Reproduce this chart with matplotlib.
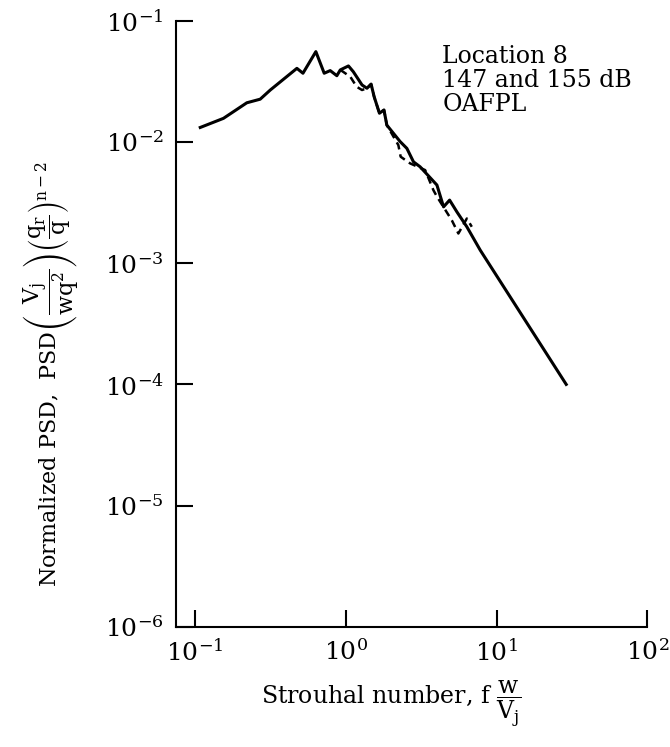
import matplotlib
matplotlib.use("Agg")
import matplotlib.pyplot as plt

plt.rcParams['font.family'] = ['DejaVu Serif']
plt.rcParams['mathtext.fontset'] = 'dejavuserif'

# 147 dB spectrum (solid)
st_solid = [0.108, 0.154, 0.220, 0.270, 0.315, 0.473, 0.519, 0.632, 0.718, 0.787,
            0.871, 0.918, 1.04, 1.12, 1.28, 1.38, 1.47, 1.54, 1.67, 1.79,
            1.87, 2.29, 2.54, 2.81, 3.11, 4.02, 4.45, 4.88, 5.46, 6.35,
            7.80, 29.0]
psd_solid = [0.0132, 0.0157, 0.0211, 0.0226, 0.0269, 0.0406, 0.0370, 0.0558, 0.0370, 0.0389,
             0.0353, 0.0394, 0.0425, 0.0381, 0.0296, 0.0278, 0.0301, 0.0237, 0.0173, 0.0184,
             0.0138, 0.0101, 0.00887, 0.00687, 0.00625, 0.00442, 0.00292, 0.00332, 0.00265, 0.00200,
             0.00128, 0.000100]

# 155 dB spectrum (dashed)
st_dash = [0.92, 1.07, 1.18, 1.28, 1.38, 1.47, 1.54, 1.67, 1.79, 1.87,
           2.23, 2.31, 2.67, 3.36, 3.81, 4.02, 5.05, 5.58, 6.35, 6.85]
psd_dash = [0.0394, 0.0346, 0.0286, 0.0269, 0.0278, 0.0301, 0.0237, 0.0173, 0.0184, 0.0138,
            0.00944, 0.00757, 0.00667, 0.00587, 0.00401, 0.00355, 0.00226, 0.00176, 0.00234, 0.00200]

x_ticks = [0.1, 1, 10, 100]
y_ticks = [1e-6, 1e-5, 1e-4, 1e-3, 1e-2, 1e-1]

fig = plt.figure(figsize=(6.7, 7.47), dpi=100)
ax = fig.add_axes([0.263, 0.161, 0.703, 0.811])

ax.plot(st_solid, psd_solid, color='black', lw=2.2, solid_joinstyle='round')
ax.plot(st_dash, psd_dash, color='black', lw=1.8, linestyle=(0, (3, 2)))

ax.set_xscale('log')
ax.set_yscale('log')
ax.set_xlim(0.0748, 100)
ax.set_ylim(1e-6, 1e-1)
ax.set_xticks(x_ticks)
ax.set_yticks(y_ticks)
ax.set_xticklabels([r'$10^{-1}$', r'$10^{0}$', r'$10^{1}$', r'$10^{2}$'])
ax.set_yticklabels([r'$10^{-6}$', r'$10^{-5}$', r'$10^{-4}$', r'$10^{-3}$', r'$10^{-2}$', r'$10^{-1}$'])
ax.minorticks_off()
ax.tick_params(direction='in', length=12, width=1.5, labelsize=18, pad=9)

ax.spines['top'].set_visible(False)
ax.spines['right'].set_visible(False)
ax.spines['left'].set_linewidth(1.5)
ax.spines['bottom'].set_linewidth(1.5)

ax.text(0.565, 0.96, "Location 8\n147 and 155 dB\nOAFPL", transform=ax.transAxes,
        fontsize=17, va='top', ha='left', linespacing=1.05)

ax.set_xlabel(r"Strouhal number, f $\dfrac{\mathrm{w}}{\mathrm{V_j}}$", fontsize=17)
ax.xaxis.set_label_coords(0.456, -0.085)

fig.text(0.075, 0.5,
         r"Normalized PSD,  $\mathrm{PSD}\left(\dfrac{\mathrm{V_j}}{\mathrm{wq^2}}\right)"
         r"\left(\dfrac{\mathrm{q_r}}{\mathrm{q}}\right)^{\mathrm{n-2}}$",
         fontsize=16, rotation=90, ha='center', va='center')

fig.savefig("out.png", dpi=100)
